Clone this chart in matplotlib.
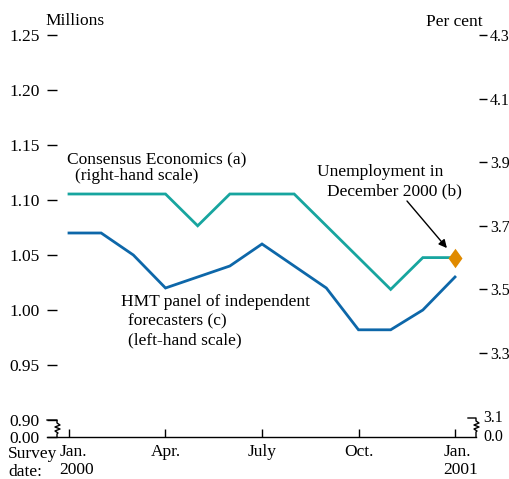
import matplotlib
matplotlib.use("Agg")
import matplotlib.pyplot as plt
import matplotlib.transforms as mtransforms
from matplotlib.lines import Line2D

plt.rcParams['font.family'] = ['Liberation Serif', 'DejaVu Serif']

W, H = 510, 479
FS = 12.5

months = list(range(13))  # Jan 2000 .. Jan 2001
hmt_millions = [1.07, 1.07, 1.05, 1.02, 1.03, 1.04, 1.06, 1.04, 1.02, 0.982, 0.982, 1.00, 1.03]
consensus_pct = [3.8, 3.8, 3.8, 3.8, 3.7, 3.8, 3.8, 3.8, 3.7, 3.6, 3.5, 3.6, 3.6]
unemp_month = [12]
unemp_pct = [3.6]

xtick_pos = [0, 3, 6, 9, 12]
xtick_labels = ["Jan.\n2000", "Apr.", "July", "Oct.", "Jan.\n2001"]
left_ticks = [0.90, 0.95, 1.00, 1.05, 1.10, 1.15, 1.20, 1.25]
right_ticks = [3.3, 3.5, 3.7, 3.9, 4.1, 4.3]

TEAL = '#17A59F'
BLUE = '#0D67A9'
ORANGE = '#E08A00'

fig = plt.figure(figsize=(W / 100, H / 100), dpi=100)

def fx(x):
    return x / W

def fy(y):
    return 1 - y / H

ax_l, ax_r, ax_t, ax_b = 57, 479, 35, 437
ax = fig.add_axes([fx(ax_l), fy(ax_b), fx(ax_r - ax_l), (ax_b - ax_t) / H])
ax2 = ax.twinx()

ppm = 32.17
ax.set_xlim(-(69 - ax_l) / ppm, 12 + (ax_r - 455) / ppm)
lbot = 1.25 - (ax_b - ax_t) * (0.05 / 55)
ax.set_ylim(lbot, 1.25)
rbot = 4.3 - (ax_b - ax_t) * (0.2 / 63.6)
ax2.set_ylim(rbot, 4.3)

for a in (ax, ax2):
    for s in a.spines.values():
        s.set_visible(False)
    a.patch.set_visible(False)

ax.plot(months, hmt_millions, color=BLUE, lw=2.0, solid_joinstyle='miter')
ax2.plot(months, consensus_pct, color=TEAL, lw=2.0, solid_joinstyle='miter')
diamond = [(0, 1), (0.72, 0), (0, -1), (-0.72, 0), (0, 1)]
ax2.plot(unemp_month, unemp_pct, linestyle='none', marker=diamond,
         markersize=14, color=ORANGE, markeredgewidth=0, clip_on=False)

# left ticks
ax.set_yticks([lbot] + left_ticks)
ax.set_yticklabels(["0.00"] + [f"{v:.2f}" for v in left_ticks])
ax.tick_params(axis='y', direction='out', length=7.5, width=1.0, pad=5,
               labelsize=FS, color='black')
# right ticks
ax2.set_yticks(right_ticks)
ax2.set_yticklabels([f"{v:.1f}" for v in right_ticks])
ax2.tick_params(axis='y', direction='out', length=6, width=1.0, pad=2.0,
                labelsize=11.5, color='black')
# x ticks
ax.set_xticks(xtick_pos)
ax.set_xticklabels(xtick_labels, multialignment='left', linespacing=1.15)
ax.tick_params(axis='x', direction='in', length=6, width=1.0, pad=5,
               labelsize=FS)
for i, lab in enumerate(ax.get_xticklabels()):
    lab.set_verticalalignment('top')
    if i == 0:
        lab.set_transform(lab.get_transform() + mtransforms.ScaledTranslation(8 / 100, 0, fig.dpi_scale_trans))
    if i == 4:
        lab.set_transform(lab.get_transform() + mtransforms.ScaledTranslation(6 / 100, 0, fig.dpi_scale_trans))

# bottom axis line
fig.add_artist(Line2D([fx(47), fx(476)], [fy(437), fy(437)], color='black', lw=1.0))

# axis breaks
def zig(x0, x1, y0, y1):
    xs = [x0, x1, x1, x1 + 3, x1 - 2, x1 + 3, x1 - 2, x1 + 1, x1, x1]
    ys = [y0, y0, y0 + 3, y0 + 5, y0 + 7, y0 + 9, y0 + 11, y0 + 13, y0 + 14, y1]
    fig.add_artist(Line2D([fx(v) for v in xs], [fy(v) for v in ys], color='black', lw=1.0))

zig(47, 57, 420, 437)
zig(468, 476, 418, 437)
fig.text(fx(483), fy(418), "3.1", fontsize=11.5, ha='left', va='center')
fig.text(fx(483), fy(437), "0.0", fontsize=11.5, ha='left', va='center')

# axis titles
fig.text(fx(45), fy(21), "Millions", fontsize=FS, ha='left', va='center')
fig.text(fx(483), fy(22), "Per cent", fontsize=FS, ha='right', va='center')
fig.text(fx(8), fy(446), "Survey\ndate:", fontsize=FS, ha='left', va='top', linespacing=1.15)

# annotations
fig.text(fx(67), fy(160), "Consensus Economics (a)", fontsize=FS, ha='left', va='center')
fig.text(fx(75), fy(176), "(right-hand scale)", fontsize=FS, ha='left', va='center')
fig.text(fx(317), fy(172), "Unemployment in", fontsize=FS, ha='left', va='center')
fig.text(fx(327), fy(191), "December 2000 (b)", fontsize=FS, ha='left', va='center')
fig.text(fx(121), fy(302), "HMT panel of independent", fontsize=FS, ha='left', va='center')
fig.text(fx(128), fy(321), "forecasters (c)", fontsize=FS, ha='left', va='center')
fig.text(fx(128), fy(340), "(left-hand scale)", fontsize=FS, ha='left', va='center')

ax2.annotate("", xy=(12, 3.6), xytext=(fx(407), fy(201)), textcoords='figure fraction',
             arrowprops=dict(arrowstyle='-|>', color='black', lw=1.0,
                             mutation_scale=12, shrinkA=0, shrinkB=9))

fig.savefig("out.png", dpi=100)
